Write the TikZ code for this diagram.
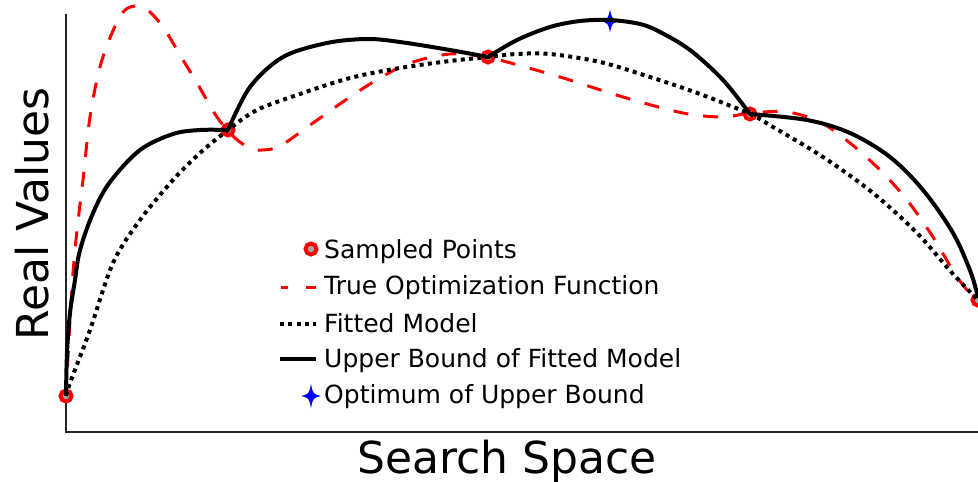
\documentclass[tikz,border=0pt]{standalone}
\usepackage{fontspec}
\setmainfont{DejaVu Sans}
\begin{document}
\begin{tikzpicture}[x=1pt,y=-1pt,
  truefn/.style={red, line width=3pt, dash pattern=on 15pt off 15pt},
  fitted/.style={black, line width=4pt, dash pattern=on 4pt off 4.3pt},
  upper/.style={black, line width=4pt, line join=round},
  sample/.style={circle, draw=red, fill=gray!70, line width=4pt, minimum size=11pt, inner sep=0pt},
  spine/.style={line width=1.3pt, black!85},
  legtext/.style={anchor=base west, inner sep=0pt, font=\fontsize{25}{29}\selectfont},
  axlabel/.style={inner sep=0pt, font=\fontsize{44}{50}\selectfont}]
\useasboundingbox (0,0) rectangle (978,482);
% spines
\coordinate (top) at (66,14);
\coordinate (origin) at (66,432);
\coordinate (right) at (978,432);
\draw[spine] (top) -- (origin) -- (right);
% true function
\draw[truefn] plot[smooth, tension=0.55] coordinates {(66,396) (68,357) (70,320) (73,273) (77,230) (83,180) (90,117) (100,67) (112,33) (124,11) (137,6) (150,12) (165,30) (180,55) (197,83) (217,117) (235,138) (250,148) (262,150) (280,146) (313,123) (350,97) (380,78) (410,63) (450,54) (487,57) (507,62) (560,77) (623,97) (683,113) (723,117) (750,113) (787,112) (820,122) (850,143) (880,170) (907,200) (933,237) (957,277) (978,303)};
% sampled points
\node[sample] (s1) at (66,396) {};
\node[sample] (s2) at (228,130) {};
\node[sample] (s3) at (488,57) {};
\node[sample] (s4) at (750,114) {};
\node[sample] (s5) at (978,300) {};
% optimum star
\fill[blue] (610,9.5) .. controls (612,19) .. (620,21) .. controls (612,23) .. (610,32.5) .. controls (608,23) .. (600,21) .. controls (608,19) .. cycle;
% fitted model
\draw[fitted] plot[smooth, tension=0.55] coordinates {(66,396) (70,383) (90,330) (113,263) (140,220) (173,180) (200,153) (228,130) (257,110) (300,94) (350,78) (400,68) (450,61) (488,57) (517,54) (550,54) (600,62) (650,77) (700,94) (750,114) (773,127) (823,157) (873,193) (917,233) (953,274) (978,300)};
% upper bound
\draw[upper] plot[smooth, tension=0.55] coordinates {(66,396) (67,353) (70,313) (75,280) (80,250) (93,213) (110,182) (140,150) (173,134) (200,130) (228,130)}
  -- plot[smooth, tension=0.55] coordinates {(228,130) (250,87) (283,57) (327,43) (367,39) (400,42) (450,50) (488,57)}
  -- plot[smooth, tension=0.55] coordinates {(488,57) (517,40) (550,27) (580,21) (610,20) (640,24) (660,32) (690,50) (723,80) (750,114)}
  -- plot[smooth, tension=0.55] coordinates {(750,114) (807,120) (850,133) (890,157) (923,190) (953,233) (971,273) (978,298)};
% legend
\node[sample] (l1) at (311,249) {};
\coordinate (d1a) at (281,287); \coordinate (d1b) at (288,287);
\coordinate (d2a) at (306,287); \coordinate (d2b) at (316,287);
\draw[red, line width=3pt] (d1a) -- (d1b);
\draw[red, line width=3pt] (d2a) -- (d2b);
\coordinate (f1) at (280,324); \coordinate (f2) at (316,324);
\draw[fitted] (f1) -- (f2);
\coordinate (u1) at (280,359); \coordinate (u2) at (316,359);
\draw[upper] (u1) -- (u2);
\fill[blue] (311,384) .. controls (313,394) .. (321,396) .. controls (313,398) .. (311,408) .. controls (309,398) .. (301,396) .. controls (309,394) .. cycle;
\node[legtext] (t1) at (324,258) {Sampled Points};
\node[legtext] (t2) at (324,294) {True Optimization Function};
\node[legtext] (t3) at (324,332) {Fitted Model};
\node[legtext] (t4) at (324,367) {Upper Bound of Fitted Model};
\node[legtext] (t5) at (324,403) {Optimum of Upper Bound};
% axis labels
\node[axlabel, anchor=base] (xl) at (507,473) {Search Space};
\node[axlabel, anchor=base, rotate=90] (yl) at (48,214) {Real Values};
\end{tikzpicture}
\end{document}
